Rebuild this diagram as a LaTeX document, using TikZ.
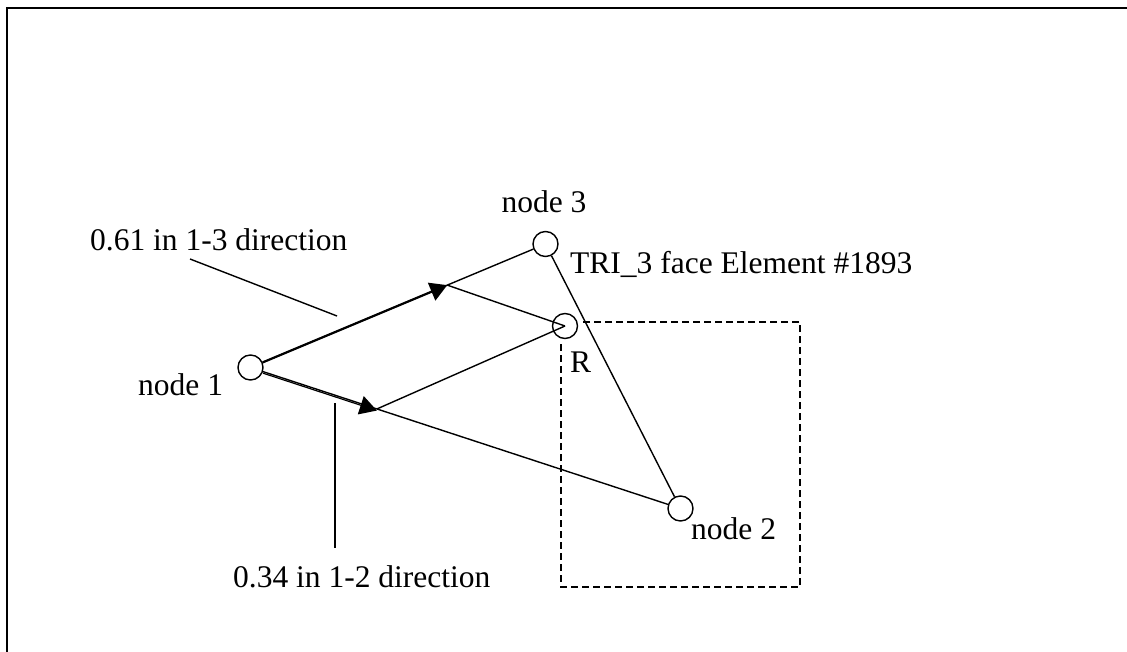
\documentclass[tikz,border=0pt]{standalone}
\usepackage{fontspec}
\setmainfont{Liberation Serif}
\usetikzlibrary{arrows.meta,calc}

\tikzset{
  pt/.style={circle, draw, line width=1.4pt, minimum size=25pt, inner sep=0pt},
  edge/.style={line width=1.4pt},
  vec/.style={line width=2.2pt, -{Triangle[length=17pt,width=19pt]}},
  lbl/.style={inner sep=0pt, font=\fontsize{31.5}{36}\selectfont},
  box/.style={line width=1.5pt, dash pattern=on 7pt off 4pt},
  frame/.style={line width=2pt}
}

\begin{document}
\begin{tikzpicture}[x=1pt,y=-1pt]
\useasboundingbox (0,0) rectangle (1127,652);

% outer frame (top and left rules)
\draw[frame] (1127,8) -- (7,8) -- (7,652);

% dashed region around R
\draw[box] (561,322) rectangle (800,587);
\fill[white] (565,326) circle (17);

% mesh points
\node[pt] (n1) at (250.5,367.5) {};
\node[pt] (n3) at (545.5,244) {};
\node[pt] (n2) at (680.5,508.5) {};
\node[pt] (R)  at (565,326) {};

% triangle edges
\draw[edge] (n1) -- (n3);
\draw[edge] (n3) -- (n2);
\draw[edge] (n1) -- (n2);

% parametric components
\coordinate (t1) at ($(n1)!0.667!(n3)$);
\coordinate (t2) at ($(n1)!0.294!(n2)$);
\draw[vec] (n1) -- (t1);
\draw[vec, line width=1.2pt] ([yshift=-1.6pt]n1.-18) -- ([yshift=-1.6pt]t2);
\draw[edge] (t1) -- (R.center);
\draw[edge] (t2) -- (R.center);

% labels
\node[lbl, anchor=base] (l3) at (544,213) {node 3};
\node[lbl, anchor=base west] (l1) at (138,395) {node 1};
\node[lbl, anchor=base west] (l2) at (691,539) {node 2};
\node[lbl, anchor=base west] (lR) at (570,372) {R};
\node[lbl, anchor=base west] (lt) at (570,274) {TRI\_3 face Element \#1893};
\node[lbl, anchor=base west] (la) at (90,251) {0.61 in 1-3 direction};
\node[lbl, anchor=base west] (lb) at (233,587) {0.34 in 1-2 direction};

% leader lines
\coordinate (pa1) at (190,259);
\coordinate (pa2) at (337,316);
\coordinate (pb1) at (335,403);
\coordinate (pb2) at (335,548);
\draw[edge] (pa1) -- (pa2);
\draw[edge] (pb1) -- (pb2);
\end{tikzpicture}
\end{document}
